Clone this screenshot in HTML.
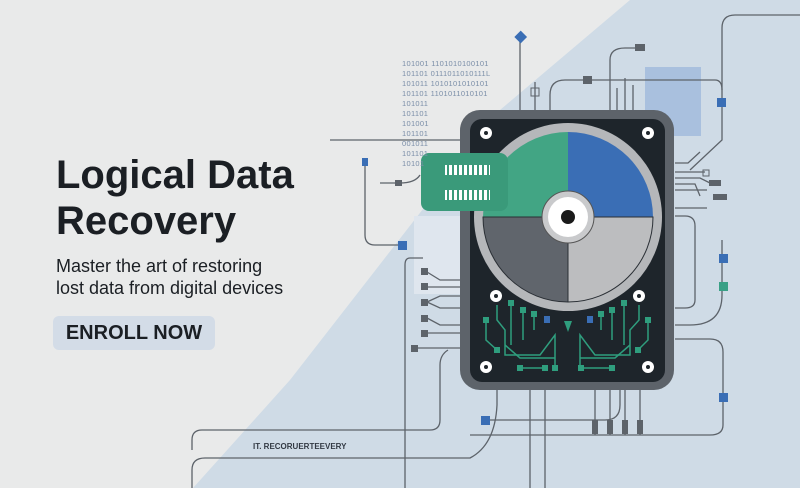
<!DOCTYPE html>
<html><head><style>
html,body{margin:0;padding:0;width:800px;height:488px;overflow:hidden;background:#e9eaea;font-family:"Liberation Sans",sans-serif}
svg{position:absolute;left:0;top:0}
.t{position:absolute;color:#1b1f24}
</style></head><body>
<svg width="800" height="488" viewBox="0 0 800 488">
<polygon points="630,0 800,0 800,488 193,488 290,380 500,110" fill="#cfdbe6"/>
<rect x="645" y="67" width="56" height="69" fill="#a9c0de"/>
<rect x="414" y="216" width="48" height="78" fill="#dfe6ee"/>
<g fill="none" stroke="#5d636a" stroke-width="1.3">
<path d="M520 37 V110"/><path d="M535 82 V110"/>
<path d="M550 110 V95 Q550 80 565 80 H715 Q722 80 722 90 V140 L690 170"/>
<path d="M610 110 V60 Q610 48 625 48 H640"/>
<path d="M617 110 V88 M625 110 V78 M633 110 V85"/>
<path d="M722 90 V28 Q722 15 735 15 H800"/>
<path d="M330 140 H460"/>
<path d="M675 163 H688 L700 152 M675 172 H705 M675 178 H700 L710 183 M675 184 H695 L700 196 M675 190 H707 M675 208 H707"/>
<path d="M675 216 H685 Q695 216 695 226 V300 Q695 308 685 308 H675"/>
<path d="M675 325 H690 Q722 325 722 295 V240"/>
<path d="M675 339 H710 Q723 339 723 352 V425 Q723 435 710 435 H470"/>
<path d="M400 245 H375 Q365 245 365 235 V160"/>
<path d="M380 183 H400 Q415 183 420 175"/>
<path d="M423 258 H410 Q405 258 405 265 V488"/>
<path d="M427 272 L440 280 H462 M427 287 H462 M427 302 L440 296 H462 M427 302 L440 308 H462 M427 318 L440 325 H462 M427 333 H462 M417 348 H462"/>
<path d="M448 350 Q440 355 440 365 V420 Q440 430 430 430 H202 Q192 430 192 440 V450"/>
<path d="M620 390 V405 Q620 420 605 420 H490"/>
<path d="M595 390 V435 M610 390 V435 M625 390 V435 M640 390 V435"/>
<path d="M497 390 V405 Q495 445 470 458 H205 Q192 458 192 470 V488"/>
<path d="M530 390 V488 M545 390 V488"/>
</g>
<rect x="516" y="32" width="9" height="9" transform="rotate(45 520 37)" fill="#3a6eb5"/>
<rect x="531" y="88" width="8" height="8" fill="none" stroke="#5d636a"/>
<rect x="583" y="76" width="9" height="8" fill="#5d636a"/>
<rect x="635" y="44" width="10" height="7" fill="#5d636a"/>
<rect x="717" y="98" width="9" height="9" fill="#3a6eb5"/>
<rect x="703" y="170" width="6" height="6" fill="none" stroke="#5d636a"/>
<rect x="709" y="180" width="12" height="6" fill="#5d636a"/>
<rect x="713" y="194" width="14" height="6" fill="#5d636a"/>
<rect x="719" y="254" width="9" height="9" fill="#3a6eb5"/>
<rect x="719" y="282" width="9" height="9" fill="#3aa086"/>
<rect x="719" y="393" width="9" height="9" fill="#3a6eb5"/>
<rect x="481" y="416" width="9" height="9" fill="#3a6eb5"/>
<rect x="398" y="241" width="9" height="9" fill="#3a6eb5"/>
<rect x="362" y="158" width="6" height="8" fill="#3a6eb5"/>
<rect x="395" y="180" width="7" height="6" fill="#5d636a"/>
<g fill="#5d636a"><rect x="421" y="268" width="7" height="7"/><rect x="421" y="283" width="7" height="7"/><rect x="421" y="299" width="7" height="7"/><rect x="421" y="315" width="7" height="7"/><rect x="421" y="330" width="7" height="7"/><rect x="411" y="345" width="7" height="7"/>
<rect x="592" y="420" width="6" height="14"/><rect x="607" y="420" width="6" height="14"/><rect x="622" y="420" width="6" height="14"/><rect x="637" y="420" width="6" height="14"/></g>
<rect x="460" y="110" width="214" height="280" rx="20" fill="#5d636a"/>
<rect x="470" y="119" width="195" height="263" rx="12" fill="#1e252b"/>
<circle cx="568" cy="217" r="94" fill="#b5b7ba"/>
<path d="M568 217 V132 A85 85 0 0 0 483 217 Z" fill="#42a584"/>
<path d="M568 217 V132 A85 85 0 0 1 653 217 Z" fill="#3a6eb5"/>
<path d="M568 217 H483 A85 85 0 0 0 568 302 Z" fill="#60656c" stroke="#2a2f35"/>
<path d="M568 217 H653 A85 85 0 0 1 568 302 Z" fill="#bcbdbf" stroke="#2a2f35"/>
<circle cx="568" cy="217" r="26" fill="#c9cacc" stroke="#555" stroke-width="1"/>
<circle cx="568" cy="217" r="20" fill="#fff"/>
<circle cx="568" cy="217" r="7" fill="#1a1a1a"/>
<g fill="#fff"><circle cx="486" cy="133" r="6"/><circle cx="648" cy="133" r="6"/><circle cx="496" cy="296" r="6"/><circle cx="639" cy="296" r="6"/><circle cx="486" cy="367" r="6"/><circle cx="648" cy="367" r="6"/></g>
<g fill="#1e252b"><circle cx="486" cy="133" r="2"/><circle cx="648" cy="133" r="2"/><circle cx="496" cy="296" r="2"/><circle cx="639" cy="296" r="2"/><circle cx="486" cy="367" r="2"/><circle cx="648" cy="367" r="2"/></g>
<g stroke="#2f9e7e" stroke-width="1.5" fill="none">
<path d="M497 305 V320 L505 330 V355 H540 L555 335 V370"/>
<path d="M511 303 V345 M523 310 V340 M534 314 V330"/>
<path d="M486 320 V340 L497 350 M520 368 H545 M580 368 H612"/>
<path d="M639 305 V320 L630 330 V355 H595 L580 335 V370"/>
<path d="M624 303 V345 M612 310 V340 M601 314 V330 M648 320 V340 L638 350"/>
<path d="M505 345 L520 358 H555 M630 345 L615 358 H580"/>
</g>
<g fill="#2f9e7e"><rect x="508" y="300" width="6" height="6"/><rect x="520" y="307" width="6" height="6"/><rect x="531" y="311" width="6" height="6"/><rect x="483" y="317" width="6" height="6"/><rect x="494" y="347" width="6" height="6"/><rect x="517" y="365" width="6" height="6"/><rect x="542" y="365" width="6" height="6"/><rect x="552" y="365" width="6" height="6"/><rect x="578" y="365" width="6" height="6"/><rect x="609" y="365" width="6" height="6"/><rect x="621" y="300" width="6" height="6"/><rect x="609" y="307" width="6" height="6"/><rect x="598" y="311" width="6" height="6"/><rect x="645" y="317" width="6" height="6"/><rect x="635" y="347" width="6" height="6"/><path d="M564 321 H572 L568 332 Z"/></g>
<rect x="544" y="316" width="6" height="7" fill="#3a6eb5"/><rect x="587" y="316" width="6" height="7" fill="#3a6eb5"/>
<rect x="421" y="153" width="87" height="58" rx="8" fill="#3a9a7a"/>
<g fill="#fff"><rect x="445" y="165" width="45" height="10"/><rect x="445" y="190" width="45" height="10"/></g>
<g fill="#3a9a7a"><rect x="447" y="164" width="2" height="12"/><rect x="452" y="164" width="2" height="12"/><rect x="457" y="164" width="2" height="12"/><rect x="462" y="164" width="2" height="12"/><rect x="467" y="164" width="2" height="12"/><rect x="472" y="164" width="2" height="12"/><rect x="477" y="164" width="2" height="12"/><rect x="482" y="164" width="2" height="12"/><rect x="487" y="164" width="2" height="12"/>
<rect x="447" y="189" width="2" height="12"/><rect x="452" y="189" width="2" height="12"/><rect x="457" y="189" width="2" height="12"/><rect x="462" y="189" width="2" height="12"/><rect x="467" y="189" width="2" height="12"/><rect x="472" y="189" width="2" height="12"/><rect x="477" y="189" width="2" height="12"/><rect x="482" y="189" width="2" height="12"/><rect x="487" y="189" width="2" height="12"/></g>
<g font-family="Liberation Sans,sans-serif" font-size="7.5" fill="#7a8ea8" letter-spacing="0.3">
<text x="402" y="66">101001 1101010100101</text><text x="402" y="76">101101 0111011010111L</text><text x="402" y="86">101011 1010101010101</text><text x="402" y="96">101101 1101011010101</text>
<text x="402" y="106">101011</text><text x="402" y="116">101101</text><text x="402" y="126">101001</text><text x="402" y="136">101101</text><text x="402" y="146">001011</text><text x="402" y="156">101101</text><text x="402" y="166">10101</text>
</g>
<text x="253" y="449" font-size="8" font-weight="bold" fill="#333a44">IT.  RECORUERTEEVERY</text>
</svg>
<div class="t" style="left:56px;top:152px;font-size:40px;line-height:46px;font-weight:600">Logical Data<br>Recovery</div>
<div class="t" style="left:56px;top:255px;font-size:18px;line-height:22px">Master the art of restoring<br>lost data from digital devices</div>
<div class="t" style="left:53px;top:316px;width:162px;height:34px;background:#d3dce7;border-radius:6px;font-size:20px;line-height:34px;text-align:center;font-weight:600">ENROLL NOW</div>
</body></html>
